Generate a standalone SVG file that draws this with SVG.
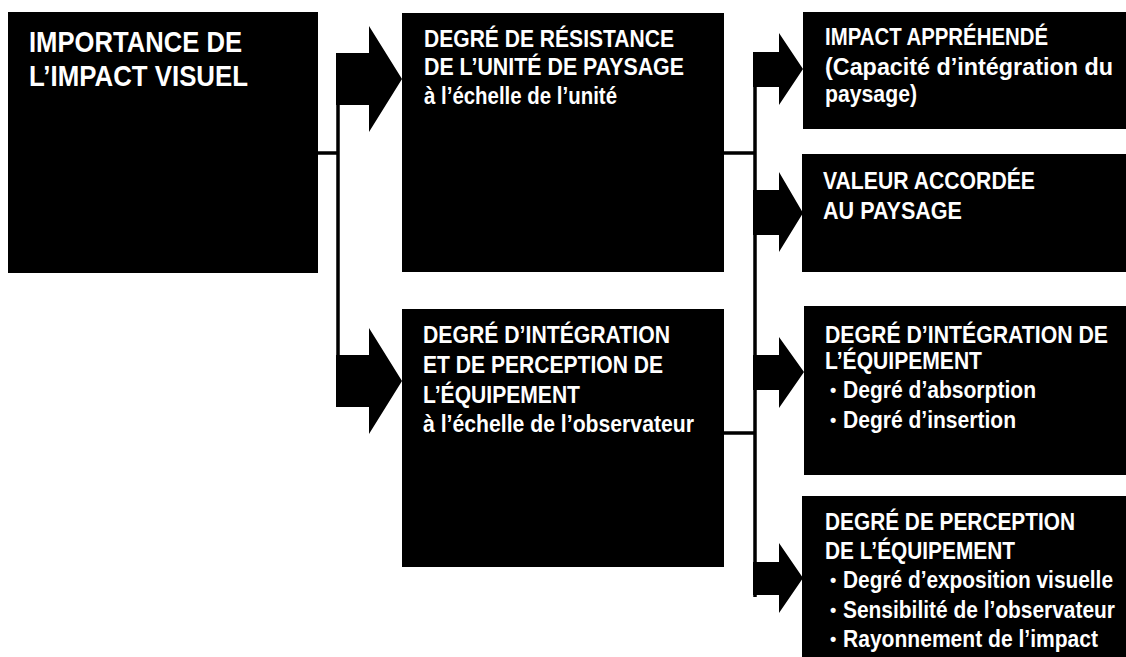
<svg xmlns="http://www.w3.org/2000/svg" width="1126" height="657" viewBox="0 0 1126 657">
<style>
.box{fill:#000;}
.t{fill:#fff;font-family:"Liberation Sans",Arial,sans-serif;font-weight:bold;}
.big{font-size:30px;}
.m{font-size:23px;}
.b{font-size:18px;}
.line{stroke:#000;stroke-width:3.5;fill:none;}
.arr{fill:#000;}
</style>
<rect width="1126" height="657" fill="#fff"/>
<g id="connectors">
<path class="line" d="M318 153H338M338 53V407"/>
<polygon class="arr" points="336,53 369,53 369,26 402,79 369,132 369,105 336,105"/>
<polygon class="arr" points="336,355 369,355 369,328 402,381 369,434 369,407 336,407"/>
<path class="line" d="M724 153H755M724 433H755M755 52V597"/>
<polygon class="arr" points="753,52 779,52 779,33 803,69 779,105 779,87 753,87"/>
<polygon class="arr" points="753,190 779,190 779,172 803,213 779,252 779,235 753,235"/>
<polygon class="arr" points="753,355 779,355 779,337 804,372 779,408 779,390 753,390"/>
<polygon class="arr" points="753,562 779,562 779,543 803,578 779,613 779,595 753,595"/>
</g>
<g id="n1">
<rect class="box" x="8" y="12" width="310" height="261"/>
<text class="t big" x="29" y="52" textLength="213" lengthAdjust="spacingAndGlyphs">IMPORTANCE DE</text>
<text class="t big" x="29" y="86" textLength="219" lengthAdjust="spacingAndGlyphs">L’IMPACT VISUEL</text>
</g>
<g id="n2">
<rect class="box" x="402" y="13" width="322" height="259"/>
<text class="t m" x="424" y="47" textLength="250" lengthAdjust="spacingAndGlyphs">DEGRÉ DE RÉSISTANCE</text>
<text class="t m" x="424" y="75" textLength="260" lengthAdjust="spacingAndGlyphs">DE L’UNITÉ DE PAYSAGE</text>
<text class="t m" x="424" y="104" textLength="193" lengthAdjust="spacingAndGlyphs">à l’échelle de l’unité</text>
</g>
<g id="n3">
<rect class="box" x="402" y="309" width="322" height="258"/>
<text class="t m" x="423" y="343" textLength="247" lengthAdjust="spacingAndGlyphs">DEGRÉ D’INTÉGRATION</text>
<text class="t m" x="423" y="373" textLength="240" lengthAdjust="spacingAndGlyphs">ET DE PERCEPTION DE</text>
<text class="t m" x="423" y="403" textLength="157" lengthAdjust="spacingAndGlyphs">L’ÉQUIPEMENT</text>
<text class="t m" x="423" y="432" textLength="271" lengthAdjust="spacingAndGlyphs">à l’échelle de l’observateur</text>
</g>
<g id="n4">
<rect class="box" x="803" y="12" width="323" height="117"/>
<text class="t m" x="825" y="45" textLength="223" lengthAdjust="spacingAndGlyphs">IMPACT APPRÉHENDÉ</text>
<text class="t m" x="825" y="75" textLength="288" lengthAdjust="spacingAndGlyphs">(Capacité d’intégration du</text>
<text class="t m" x="825" y="102" textLength="92" lengthAdjust="spacingAndGlyphs">paysage)</text>
</g>
<g id="n5">
<rect class="box" x="802" y="154" width="324" height="118"/>
<text class="t m" x="823" y="189" textLength="212" lengthAdjust="spacingAndGlyphs">VALEUR ACCORDÉE</text>
<text class="t m" x="823" y="219" textLength="139" lengthAdjust="spacingAndGlyphs">AU PAYSAGE</text>
</g>
<g id="n6">
<rect class="box" x="804" y="306" width="322" height="169"/>
<text class="t m" x="825" y="343" textLength="283" lengthAdjust="spacingAndGlyphs">DEGRÉ D’INTÉGRATION DE</text>
<text class="t m" x="825" y="369" textLength="157" lengthAdjust="spacingAndGlyphs">L’ÉQUIPEMENT</text>
<text class="t b" x="830" y="396">•</text>
<text class="t m" x="843" y="398" textLength="193" lengthAdjust="spacingAndGlyphs">Degré d’absorption</text>
<text class="t b" x="830" y="426">•</text>
<text class="t m" x="843" y="428" textLength="173" lengthAdjust="spacingAndGlyphs">Degré d’insertion</text>
</g>
<g id="n7">
<rect class="box" x="802" y="496" width="324" height="161"/>
<text class="t m" x="825" y="530" textLength="250" lengthAdjust="spacingAndGlyphs">DEGRÉ DE PERCEPTION</text>
<text class="t m" x="825" y="559" textLength="190" lengthAdjust="spacingAndGlyphs">DE L’ÉQUIPEMENT</text>
<text class="t b" x="830" y="586">•</text>
<text class="t m" x="843" y="588" textLength="270" lengthAdjust="spacingAndGlyphs">Degré d’exposition visuelle</text>
<text class="t b" x="830" y="616">•</text>
<text class="t m" x="843" y="618" textLength="272" lengthAdjust="spacingAndGlyphs">Sensibilité de l’observateur</text>
<text class="t b" x="830" y="645">•</text>
<text class="t m" x="843" y="647" textLength="255" lengthAdjust="spacingAndGlyphs">Rayonnement de l’impact</text>
</g>
</svg>
